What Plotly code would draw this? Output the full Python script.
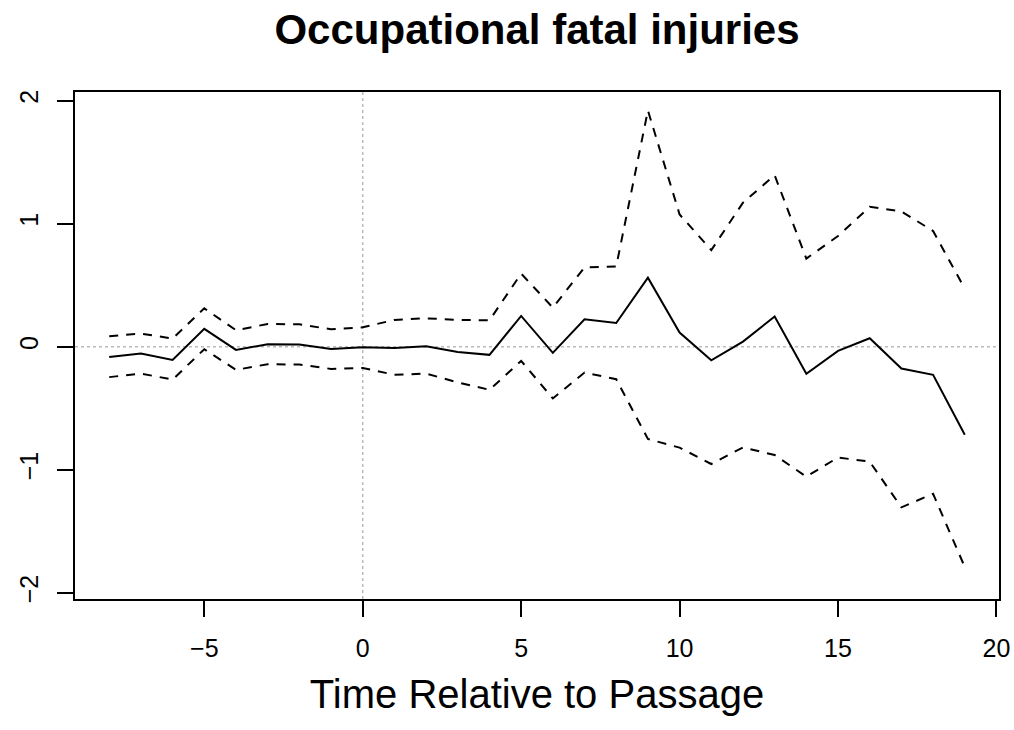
import plotly.graph_objects as go

# Data
time = list(range(-8, 20))
estimate = [-0.083, -0.055, -0.107, 0.145, -0.026, 0.020, 0.018, -0.018, -0.004,
            -0.010, 0.004, -0.042, -0.066, 0.250, -0.050, 0.223, 0.193, 0.561,
            0.115, -0.110, 0.042, 0.245, -0.220, -0.034, 0.069, -0.177, -0.228, -0.715]
upper = [0.085, 0.107, 0.066, 0.312, 0.134, 0.185, 0.182, 0.142, 0.158,
         0.218, 0.231, 0.218, 0.215, 0.594, 0.318, 0.645, 0.653, 1.920,
         1.075, 0.785, 1.170, 1.394, 0.716, 0.900, 1.137, 1.100, 0.940, 0.472]
lower = [-0.247, -0.218, -0.267, -0.020, -0.188, -0.142, -0.145, -0.180, -0.172,
         -0.228, -0.218, -0.290, -0.350, -0.115, -0.420, -0.210, -0.264, -0.750,
         -0.820, -0.953, -0.818, -0.880, -1.056, -0.900, -0.934, -1.305, -1.195, -1.790]

x_ticks = [-5, 0, 5, 10, 15, 20]
y_ticks = [-2, -1, 0, 1, 2]
y_ticktext = ["\u22122", "\u22121", "0", "1", "2"]

FONT = "Liberation Sans, Arial, Helvetica, sans-serif"

fig = go.Figure()
fig.add_trace(go.Scatter(x=time, y=upper, mode="lines",
                         line=dict(color="black", width=2, dash="9px,8px"),
                         showlegend=False, hoverinfo="skip"))
fig.add_trace(go.Scatter(x=time, y=lower, mode="lines",
                         line=dict(color="black", width=2, dash="9px,8px"),
                         showlegend=False, hoverinfo="skip"))
fig.add_trace(go.Scatter(x=time, y=estimate, mode="lines",
                         line=dict(color="black", width=2),
                         showlegend=False))

# dotted reference lines at 0
fig.add_shape(type="line", xref="x", yref="paper", x0=0, x1=0, y0=0, y1=1,
              line=dict(color="#bbbbbb", width=1.5, dash="dot"), layer="below")
fig.add_shape(type="line", xref="paper", yref="y", x0=0, x1=1, y0=0, y1=0,
              line=dict(color="#bbbbbb", width=1.5, dash="dot"), layer="below")

fig.update_layout(
    width=1014, height=730,
    margin=dict(l=75, r=15, t=92, b=131, autoexpand=False),
    paper_bgcolor="white", plot_bgcolor="white",
    font=dict(family=FONT, color="black"),
    title=dict(text="<b>Occupational fatal injuries</b>", x=0.5296, xanchor="center",
               y=1 - 29 / 730, yanchor="middle",
               font=dict(size=42, family=FONT, color="black")),
    xaxis=dict(range=[-9.08, 20.08], tickvals=x_ticks, ticks="outside", ticklen=16,
               tickwidth=2, tickcolor="black", showline=True, linewidth=2,
               linecolor="black", mirror=True, showgrid=False, zeroline=False,
               tickfont=dict(size=25, family=FONT, color="black"),
               ticklabelstandoff=10,
               title=dict(text="Time Relative to Passage", standoff=19,
                          font=dict(size=40, family=FONT, color="black"))),
    yaxis=dict(range=[-2.05, 2.07], tickvals=y_ticks, ticktext=y_ticktext,
               ticks="outside", ticklen=16, tickwidth=2, tickcolor="black",
               showline=True, linewidth=2, linecolor="black", mirror=True,
               showgrid=False, zeroline=False, tickangle=-90,
               tickfont=dict(size=25, family=FONT, color="black"),
               ticklabelstandoff=9),
)

fig.write_html("out.html")
